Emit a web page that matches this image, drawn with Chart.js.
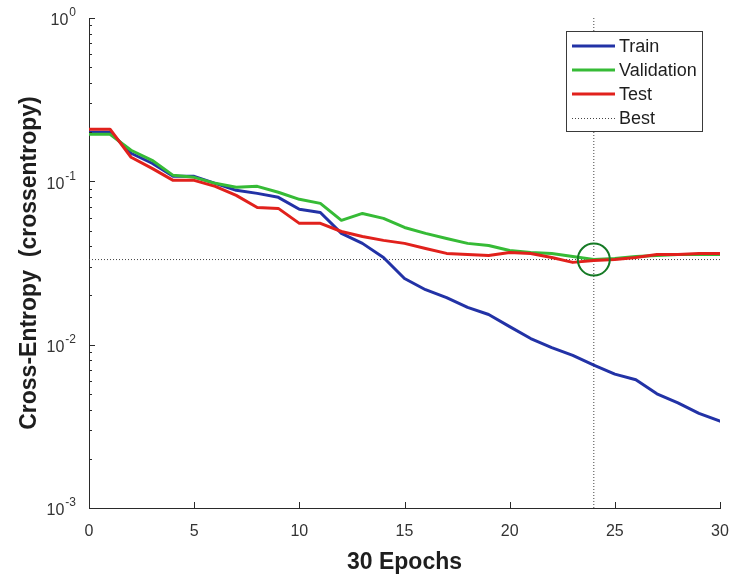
<!DOCTYPE html>
<html><head><meta charset="utf-8">
<script src="https://cdn.jsdelivr.net/npm/chart.js@4.4.1/dist/chart.umd.min.js"></script>
<style>html,body{margin:0;padding:0;background:#fff}canvas{display:block}</style>
</head><body>
<canvas id="c" width="734" height="576"></canvas>
<script>
// ---- data ----
const epochs = [0,1,2,3,4,5,6,7,8,9,10,11,12,13,14,15,16,17,18,19,20,21,22,23,24,25,26,27,28,29,30];
const train = [0.200,0.200,0.1486,0.129,0.1073,0.1073,0.0972,0.0881,0.0844,0.0798,0.0674,0.0645,0.0480,0.0417,0.0342,0.0254,0.0217,0.0194,0.0169,0.0153,0.0129,0.0109,0.0096,0.0086,0.0075,0.0066,0.0061,0.0050,0.0044,0.0038,0.0034];
const validation = [0.194,0.194,0.155,0.1345,0.1088,0.1058,0.0972,0.0919,0.0932,0.0857,0.0776,0.0733,0.0577,0.0636,0.0593,0.0522,0.0480,0.0447,0.0417,0.0405,0.0377,0.0367,0.0362,0.0347,0.0332,0.0337,0.0347,0.0352,0.0357,0.0357,0.0357];
const test = [0.2085,0.2085,0.1404,0.120,0.1014,0.1014,0.0932,0.0820,0.0692,0.0683,0.0553,0.0553,0.0493,0.0460,0.0435,0.0417,0.0388,0.0362,0.0357,0.0352,0.0367,0.0362,0.0342,0.0319,0.0328,0.0332,0.0342,0.0357,0.0357,0.0362,0.0362];
const bestEpoch = 24;
const bestValue = 0.0332;
const xTicks = [0,5,10,15,20,25,30];
const yDecades = [0.001,0.01,0.1,1];
const yDecadeBase = '10';
const yDecadeExponents = ['-3','-2','-1','0'];
const seriesNames = ['Train','Validation','Test','Best'];
const xTitle = '30 Epochs';
const yTitle = 'Cross-Entropy  (crossentropy)';

// ---- styles ----
const COLORS = {train:'#2232a6', val:'#36bb36', test:'#e1211c', best:'#444', circle:'#157a25', axis:'#2a2a2a', text:'#333'};
const FONT = 'Liberation Sans, Arial, sans-serif';

const yTickValues = [];
yDecades.forEach(d => { for (let m = 1; m <= 9; m++) { const v = d*m; if (v <= 1.0000001) yTickValues.push(+v.toPrecision(6)); } });
const xMin = xTicks[0], xMax = xTicks[xTicks.length-1];
const yMin = yDecades[0], yMax = yDecades[yDecades.length-1];
const decadeIndex = v => yDecades.findIndex(d => Math.abs(v/d - 1) < 1e-6);

const pts = arr => epochs.map((e,i) => ({x:e, y:arr[i]}));
const lineDs = (label, arr, color, order) => ({
  label, data: pts(arr), borderColor: color, backgroundColor: color, borderWidth: 3,
  pointRadius: 0, tension: 0, borderJoinStyle: 'round', borderCapStyle: 'round', order
});

const decor = {
  id: 'decor',
  afterDatasetsDraw(chart) {
    const ctx = chart.ctx, xs = chart.scales.x, ys = chart.scales.y, ca = chart.chartArea;
    ctx.save();
    ctx.strokeStyle = COLORS.axis; ctx.lineWidth = 1;
    ys.ticks.forEach(t => {
      const p = Math.round(ys.getPixelForValue(t.value)) + 0.5;
      const major = decadeIndex(t.value) >= 0;
      const len = major ? 6 : 3;
      ctx.beginPath(); ctx.moveTo(ca.left, p); ctx.lineTo(ca.left + len, p); ctx.stroke();
    });
    xs.ticks.forEach(t => {
      const p = Math.round(xs.getPixelForValue(t.value)) + 0.5;
      ctx.beginPath(); ctx.moveTo(p, ca.bottom); ctx.lineTo(p, ca.bottom - 6); ctx.stroke();
    });
    // decade tick labels with superscript exponent, placed by the y scale
    ctx.fillStyle = COLORS.text; ctx.textBaseline = 'middle';
    ys.ticks.forEach(t => {
      const i = decadeIndex(t.value);
      if (i < 0) return;
      const p = ys.getPixelForValue(t.value);
      const right = ca.left - 13;
      ctx.font = '12px ' + FONT; ctx.textAlign = 'right';
      const ew = ctx.measureText(yDecadeExponents[i]).width;
      ctx.fillText(yDecadeExponents[i], right, p - 5);
      ctx.font = '16px ' + FONT;
      ctx.fillText(yDecadeBase, right - ew - 1, p + 3);
    });
    ctx.restore();
  },
  afterDraw(chart) {
    const ctx = chart.ctx;
    const bx = 566.5, by = 31.5, bw = 136, bh = 100;
    ctx.save();
    ctx.fillStyle = '#fff'; ctx.fillRect(bx, by, bw, bh);
    ctx.strokeStyle = '#3a3a3a'; ctx.lineWidth = 1; ctx.strokeRect(bx, by, bw, bh);
    const rows = [46, 70, 94, 118];
    const styles = [
      {c: COLORS.train, w: 3, dash: []},
      {c: COLORS.val, w: 3, dash: []},
      {c: COLORS.test, w: 3, dash: []},
      {c: COLORS.best, w: 1, dash: [1,2]}
    ];
    ctx.font = '18px ' + FONT; ctx.textBaseline = 'middle'; ctx.textAlign = 'left';
    seriesNames.forEach((name, i) => {
      const s = styles[i], y = rows[i] + (s.w === 1 ? 0.5 : 0);
      ctx.strokeStyle = s.c; ctx.lineWidth = s.w; ctx.setLineDash(s.dash);
      ctx.beginPath(); ctx.moveTo(572, y); ctx.lineTo(615, y); ctx.stroke();
      ctx.setLineDash([]);
      ctx.fillStyle = '#1e1e1e';
      ctx.fillText(name, 619, rows[i] + 1);
    });
    ctx.restore();
  }
};

new Chart(document.getElementById('c'), {
  type: 'line',
  data: {
    datasets: [
      {label: 'Best', data: [{x: xMin, y: bestValue}, {x: xMax, y: bestValue}], borderColor: COLORS.best, borderWidth: 1, borderDash: [1,2], pointRadius: 0, order: 5},
      {label: 'BestV', data: [{x: bestEpoch, y: yMax}, {x: bestEpoch, y: yMin}], borderColor: COLORS.best, borderWidth: 1, borderDash: [1,2], pointRadius: 0, order: 5},
      lineDs('Train', train, COLORS.train, 3),
      lineDs('Validation', validation, COLORS.val, 2),
      lineDs('Test', test, COLORS.test, 1),
      {label: 'BestPoint', data: [{x: bestEpoch, y: bestValue}], showLine: false, pointRadius: 16, pointBorderWidth: 2,
       pointBorderColor: COLORS.circle, pointBackgroundColor: 'rgba(0,0,0,0)', order: 0}
    ]
  },
  options: {
    responsive: false, animation: false, events: [],
    layout: {autoPadding: false, padding: {top: 18, right: 14, left: 0, bottom: 0}},
    plugins: {legend: {display: false}, tooltip: {enabled: false}},
    scales: {
      x: {
        type: 'linear', min: xMin, max: xMax,
        afterBuildTicks(s) { s.ticks = xTicks.map(v => ({value: v})); },
        afterFit(s) { s.height = 68; s.paddingLeft = 0; s.paddingRight = 0; },
        grid: {display: true, drawOnChartArea: false, drawTicks: false},
        border: {display: true, color: COLORS.axis, width: 1},
        ticks: {autoSkip: false, maxRotation: 0, padding: 14, color: COLORS.text, font: {family: FONT, size: 16}},
        title: {display: true, text: xTitle, color: '#1e1e1e', font: {family: FONT, size: 23, weight: 'bold'}, padding: {top: 0, bottom: 0}}
      },
      y: {
        type: 'logarithmic', min: yMin, max: yMax,
        afterBuildTicks(s) { s.ticks = yTickValues.map(v => ({value: v})); },
        afterFit(s) { s.width = 89; s.paddingTop = 0; s.paddingBottom = 0; },
        grid: {display: true, drawOnChartArea: false, drawTicks: false},
        border: {display: true, color: COLORS.axis, width: 1},
        ticks: {autoSkip: false, padding: 8, callback() { return ''; }},
        title: {display: true, text: yTitle, color: '#1e1e1e', font: {family: FONT, size: 23, weight: 'bold'}, padding: {top: 16, bottom: 0}}
      }
    }
  },
  plugins: [decor]
});
</script>
</body></html>
